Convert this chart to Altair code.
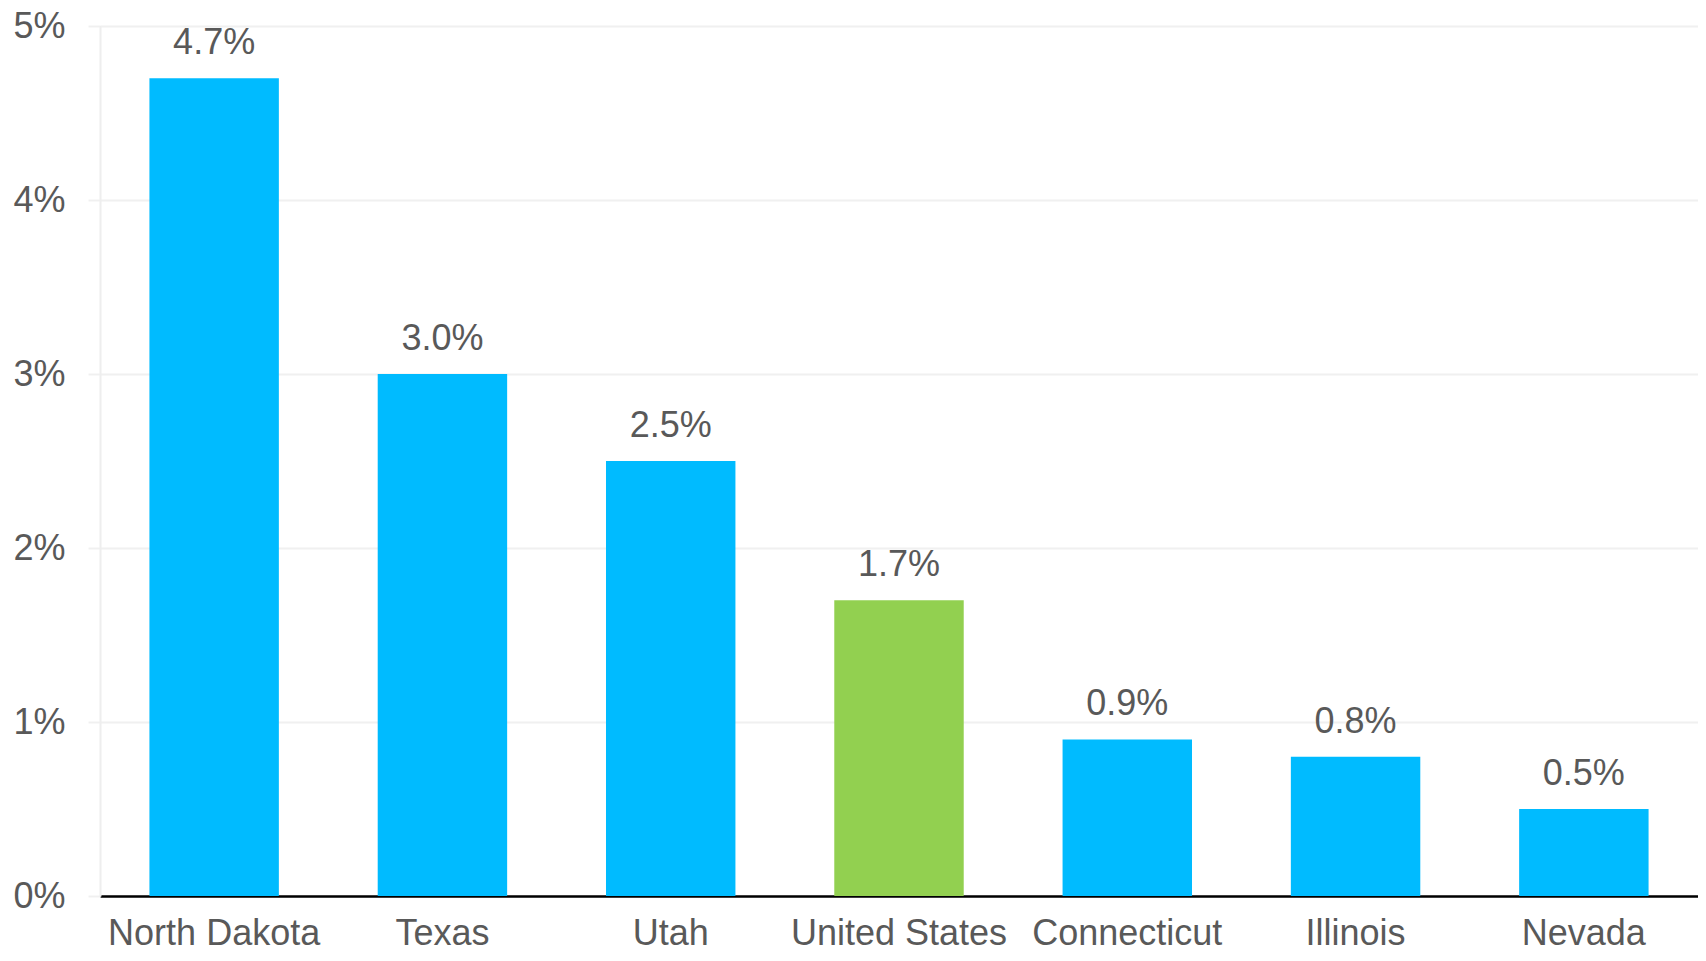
import altair as alt
import pandas as pd

states = ["North Dakota", "Texas", "Utah", "United States", "Connecticut", "Illinois", "Nevada"]
growth = [0.047, 0.030, 0.025, 0.017, 0.009, 0.008, 0.005]
group = ["State", "State", "State", "National", "State", "State", "State"]
y_ticks = [0, 0.01, 0.02, 0.03, 0.04, 0.05]

df = pd.DataFrame({"state": states, "growth": growth, "group": group})

FONT = "Liberation Sans"
GRAY = "#595959"

base = alt.Chart(df).encode(
    x=alt.X(
        "state:N",
        sort=states,
        scale=alt.Scale(paddingInner=0.433, paddingOuter=0.2165),
        axis=alt.Axis(
            title=None,
            labelAngle=0,
            labelFontSize=36,
            labelFont=FONT,
            labelColor=GRAY,
            labelPadding=20,
            labelLimit=0,
            ticks=False,
            domainColor="#000000",
            domainWidth=2.5,
            grid=False,
        ),
    ),
    y=alt.Y(
        "growth:Q",
        scale=alt.Scale(domain=[0, 0.05], nice=False),
        axis=alt.Axis(
            title=None,
            values=y_ticks,
            format=".0%",
            labelFontSize=36,
            labelFont=FONT,
            labelColor=GRAY,
            labelPadding=23,
            tickSize=12,
            tickColor="#F0F0F0",
            tickWidth=2,
            gridColor="#F0F0F0",
            gridWidth=2,
            domainColor="#EEEEEE",
            domainWidth=2,
        ),
    ),
)

bars = base.mark_bar().encode(
    color=alt.Color(
        "group:N",
        scale=alt.Scale(domain=["State", "National"], range=["#00BBFF", "#92D050"]),
        legend=None,
    )
)

labels = base.mark_text(
    baseline="alphabetic", dy=-24, fontSize=36, font=FONT, color=GRAY
).encode(text=alt.Text("growth:Q", format=".1%"))

chart = (
    alt.layer(bars, labels)
    .properties(
        width=1598,
        height=870,
        autosize=alt.AutoSizeParams(type="none"),
        padding={"left": 92, "top": 18, "right": 0, "bottom": 56},
    )
    .configure_view(stroke=None)
    .configure(background="white")
)

chart.save("out.html", embed_options={"renderer": "svg", "actions": False})
